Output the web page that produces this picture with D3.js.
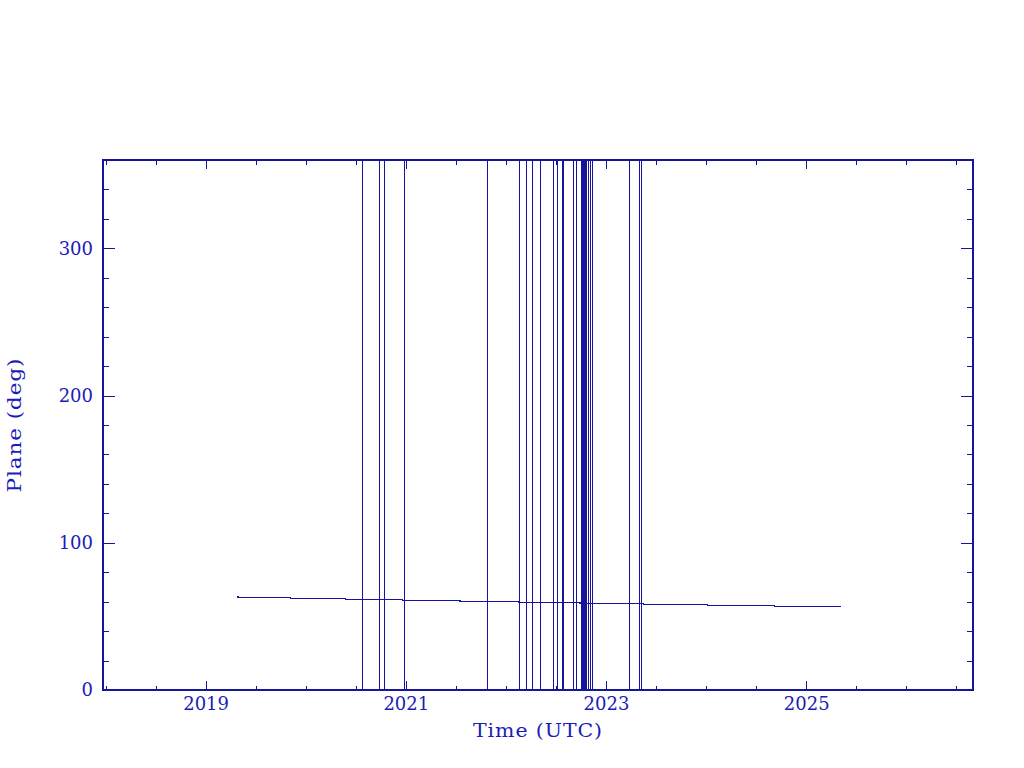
<!DOCTYPE html>
<html>
<head>
<meta charset="utf-8">
<script src="https://cdn.jsdelivr.net/npm/d3@7/dist/d3.min.js"></script>
<style>
  html, body { margin: 0; padding: 0; background: #ffffff; }
  svg { display: block; }
  text { font-family: "DejaVu Serif", serif; fill: #1c1cb8; }
</style>
</head>
<body>
<svg id="chart" width="1024" height="768"></svg>
<script>
// ---- data (decimal years, degrees) ----
const planeDates  = [2019.309, 2019.324, 2019.847, 2020.396, 2020.965, 2021.541, 2022.124, 2022.740, 2023.373, 2024.012, 2024.681, 2025.345];
const planeValues = [63.5,     62.97,    62.29,    61.61,    60.93,    60.25,    59.57,    58.89,    58.21,    57.53,    56.85,    56.85];
const spikeDates  = [2020.559, 2020.735, 2020.784, 2020.986, 2021.814, 2022.128, 2022.204, 2022.264,
                     2022.344, 2022.466, 2022.514, 2022.556, 2022.571, 2022.674, 2022.704, 2022.746,
                     2022.756, 2022.766, 2022.776, 2022.786, 2022.796, 2022.818, 2022.841, 2022.861,
                     2023.233, 2023.333, 2023.353];
const xMajorTicks = [2019, 2021, 2023, 2025];
const xMinorTicks = [2018, 2018.5, 2019.5, 2020, 2020.5, 2021.5, 2022, 2022.5, 2023.5, 2024, 2024.5, 2025.5, 2026, 2026.5];
const yMajorTicks = [0, 100, 200, 300];
const yMinorTicks = [20, 40, 60, 80, 120, 140, 160, 180, 220, 240, 260, 280, 320, 340];
const xTitle = "Time (UTC)";
const yTitle = "Plane (deg)";

const col = "#14149c";
const svg = d3.select("#chart");
const L = 103, R = 973, T = 160, B = 690;

const x = d3.scaleLinear().domain([2017.975, 2026.666]).range([L, R]);
const y = d3.scaleLinear().domain([0, 360]).range([B, T]);

const g = svg.append("g").attr("shape-rendering", "crispEdges");

function styleAxis(sel) {
  sel.select(".domain").remove();
  sel.selectAll(".tick line").attr("stroke", col);
  sel.selectAll(".tick text").attr("fill", "#1c1cb8").attr("font-size", 18)
     .attr("font-family", "DejaVu Serif, serif");
}

// bottom axis
g.append("g").attr("transform", `translate(0,${B})`)
  .call(d3.axisBottom(x).tickValues(xMajorTicks).tickFormat(d3.format("d"))
        .tickSizeInner(-9).tickSizeOuter(0).tickPadding(7))
  .call(styleAxis);
g.append("g").attr("transform", `translate(0,${B})`)
  .call(d3.axisBottom(x).tickValues(xMinorTicks).tickFormat("").tickSizeInner(-4.5).tickSizeOuter(0))
  .call(styleAxis);
// top axis
g.append("g").attr("transform", `translate(0,${T})`)
  .call(d3.axisTop(x).tickValues(xMajorTicks).tickFormat("").tickSizeInner(-9).tickSizeOuter(0))
  .call(styleAxis);
g.append("g").attr("transform", `translate(0,${T})`)
  .call(d3.axisTop(x).tickValues(xMinorTicks).tickFormat("").tickSizeInner(-4.5).tickSizeOuter(0))
  .call(styleAxis);
// left axis
g.append("g").attr("transform", `translate(${L},0)`)
  .call(d3.axisLeft(y).tickValues(yMajorTicks).tickFormat(d3.format("d"))
        .tickSizeInner(-12).tickSizeOuter(0).tickPadding(10))
  .call(styleAxis);
g.append("g").attr("transform", `translate(${L},0)`)
  .call(d3.axisLeft(y).tickValues(yMinorTicks).tickFormat("").tickSizeInner(-6).tickSizeOuter(0))
  .call(styleAxis);
// right axis
g.append("g").attr("transform", `translate(${R},0)`)
  .call(d3.axisRight(y).tickValues(yMajorTicks).tickFormat("").tickSizeInner(-12).tickSizeOuter(0))
  .call(styleAxis);
g.append("g").attr("transform", `translate(${R},0)`)
  .call(d3.axisRight(y).tickValues(yMinorTicks).tickFormat("").tickSizeInner(-6).tickSizeOuter(0))
  .call(styleAxis);

// spikes (full-range jumps)
g.append("g").selectAll("line").data(spikeDates).join("line")
  .attr("x1", d => Math.round(x(d)) + 0.5).attr("x2", d => Math.round(x(d)) + 0.5)
  .attr("y1", y(0)).attr("y2", y(360))
  .attr("stroke", col).attr("stroke-width", 1);

// plane line
const pts = planeDates.map((d, i) => [d, planeValues[i]]);
const line = d3.line().x(d => x(d[0])).y(d => y(d[1])).curve(d3.curveStepAfter);
g.append("path").datum(pts).attr("d", line)
  .attr("fill", "none").attr("stroke", col).attr("stroke-width", 1.2);

// frame
g.append("rect").attr("x", L).attr("y", T).attr("width", R - L).attr("height", B - T)
  .attr("fill", "none").attr("stroke", col).attr("stroke-width", 1.2);

// titles (stretched horizontally to match the wide plotter font)
function stretched(parent, txt, target, transform) {
  const outer = parent.append("g").attr("transform", transform);
  const inner = outer.append("g");
  const t = inner.append("text").attr("text-anchor", "middle").attr("font-size", 18)
    .attr("letter-spacing", 0.8).text(txt);
  const w = t.node().getComputedTextLength();
  inner.attr("transform", `scale(${target / w},1)`);
}
stretched(svg, xTitle, 130, `translate(${(L + R) / 2},737)`);
stretched(svg, yTitle, 135, `translate(21,${(T + B) / 2}) rotate(-90)`);
</script>
</body>
</html>
